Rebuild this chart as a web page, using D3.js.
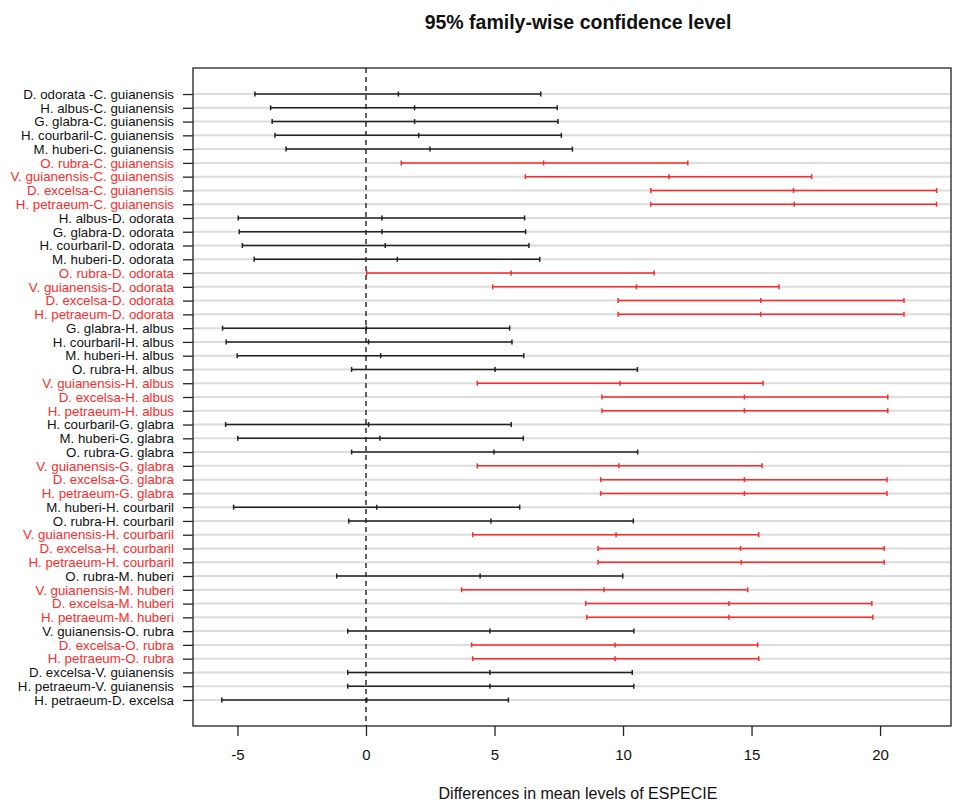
<!DOCTYPE html>
<html>
<head>
<meta charset="utf-8">
<script src="https://cdn.jsdelivr.net/npm/d3@7"></script>
<style>
  body { margin: 0; background: #fff; }
  text { font-family: "Liberation Sans", Arial, sans-serif; }
</style>
</head>
<body>
<div id="chart"></div>
<script>
// Tukey HSD comparisons, top to bottom
const comparisons = [
    'D. odorata -C. guianensis', 'H. albus-C. guianensis', 'G. glabra-C. guianensis',
    'H. courbaril-C. guianensis', 'M. huberi-C. guianensis', 'O. rubra-C. guianensis',
    'V. guianensis-C. guianensis', 'D. excelsa-C. guianensis', 'H. petraeum-C. guianensis',
    'H. albus-D. odorata', 'G. glabra-D. odorata', 'H. courbaril-D. odorata',
    'M. huberi-D. odorata', 'O. rubra-D. odorata', 'V. guianensis-D. odorata',
    'D. excelsa-D. odorata', 'H. petraeum-D. odorata', 'G. glabra-H. albus',
    'H. courbaril-H. albus', 'M. huberi-H. albus', 'O. rubra-H. albus',
    'V. guianensis-H. albus', 'D. excelsa-H. albus', 'H. petraeum-H. albus',
    'H. courbaril-G. glabra', 'M. huberi-G. glabra', 'O. rubra-G. glabra',
    'V. guianensis-G. glabra', 'D. excelsa-G. glabra', 'H. petraeum-G. glabra',
    'M. huberi-H. courbaril', 'O. rubra-H. courbaril', 'V. guianensis-H. courbaril',
    'D. excelsa-H. courbaril', 'H. petraeum-H. courbaril', 'O. rubra-M. huberi',
    'V. guianensis-M. huberi', 'D. excelsa-M. huberi', 'H. petraeum-M. huberi',
    'V. guianensis-O. rubra', 'D. excelsa-O. rubra', 'H. petraeum-O. rubra',
    'D. excelsa-V. guianensis', 'H. petraeum-V. guianensis', 'H. petraeum-D. excelsa'
]
const diff = [
    1.26, 1.89, 1.89, 2.05, 2.49, 6.91, 11.79, 16.63, 16.66,
    0.62, 0.62, 0.75, 1.22, 5.65, 10.52, 15.36, 15.36,
    0.01, 0.10, 0.57, 5.02, 9.88, 14.72, 14.72,
    0.10, 0.54, 4.98, 9.84, 14.72, 14.72,
    0.42, 4.86, 9.73, 14.57, 14.60,
    4.44, 9.26, 14.12, 14.12,
    4.82, 9.69, 9.69,
    4.82, 4.82,
    0.03
]
const lwr = [
    -4.32, -3.71, -3.65, -3.54, -3.11, 1.37, 6.20, 11.08, 11.08,
    -4.97, -4.93, -4.81, -4.35, 0.03, 4.93, 9.81, 9.81,
    -5.58, -5.44, -5.01, -0.56, 4.33, 9.18, 9.18,
    -5.46, -4.99, -0.56, 4.33, 9.13, 9.13,
    -5.15, -0.67, 4.15, 9.03, 9.03,
    -1.14, 3.72, 8.55, 8.59,
    -0.71, 4.11, 4.15,
    -0.71, -0.71,
    -5.61
]
const upr = [
    6.80, 7.44, 7.47, 7.60, 8.03, 12.52, 17.34, 22.20, 22.20,
    6.17, 6.21, 6.34, 6.76, 11.21, 16.07, 20.93, 20.93,
    5.59, 5.68, 6.14, 10.56, 15.45, 20.30, 20.30,
    5.65, 6.12, 10.57, 15.41, 20.27, 20.27,
    5.98, 10.40, 15.28, 20.16, 20.16,
    9.99, 14.85, 19.68, 19.72,
    10.42, 15.24, 15.28,
    10.36, 10.42,
    5.54
]
const xTicks = [-5, 0, 5, 10, 15, 20]

const width = 957, height = 802
const margin = {top: 68, right: 6, bottom: 76, left: 193}
const red = '#ff2a2a', black = '#222'

const svg = d3.select('#chart')
    .append('svg')
        .attr('width', width)
        .attr('height', height)

const n = comparisons.length
const rows = comparisons.map((name, i) => ({
    name, diff: diff[i], lwr: lwr[i], upr: upr[i], y: n - i,
    sig: lwr[i] > 0 || upr[i] < 0
}))

const xScale = d3.scaleLinear()
    .domain([-6.73, 22.76])
    .range([margin.left, width - margin.right])
const yScale = d3.scaleLinear()
    .domain([n + 1.89, 1 - 1.89])
    .range([margin.top, height - margin.bottom])

// grey guide lines
svg.append('g')
    .selectAll('line')
    .data(rows)
    .join('line')
        .attr('x1', xScale.range()[0])
        .attr('x2', xScale.range()[1])
        .attr('y1', d => yScale(d.y))
        .attr('y2', d => yScale(d.y))
        .style('stroke', '#dcdcdc')
        .style('stroke-width', 2)

// zero line
svg.append('line')
    .attr('x1', xScale(0)).attr('x2', xScale(0))
    .attr('y1', yScale.range()[0]).attr('y2', yScale.range()[1])
    .style('stroke', '#111')
    .style('stroke-width', 1.3)
    .style('stroke-dasharray', '5,4')

// intervals
const bars = svg.append('g').selectAll('g')
    .data(rows)
    .join('g')
        .style('stroke', d => d.sig ? red : black)
        .style('stroke-width', 1.5)

bars.append('line')
    .attr('x1', d => xScale(d.lwr))
    .attr('x2', d => xScale(d.upr))
    .attr('y1', d => yScale(d.y))
    .attr('y2', d => yScale(d.y))

for (const key of ['lwr', 'diff', 'upr']) {
    bars.append('line')
        .attr('x1', d => xScale(d[key]))
        .attr('x2', d => xScale(d[key]))
        .attr('y1', d => yScale(d.y) - 2.5)
        .attr('y2', d => yScale(d.y) + 2.5)
}

// box
svg.append('rect')
    .attr('x', xScale.range()[0])
    .attr('y', yScale.range()[0])
    .attr('width', xScale.range()[1] - xScale.range()[0])
    .attr('height', yScale.range()[1] - yScale.range()[0])
    .style('fill', 'none')
    .style('stroke', '#222')
    .style('stroke-width', 1.3)

// axes
const yAxis = d3.axisLeft(yScale)
    .tickValues(rows.map(d => d.y))
    .tickFormat(v => comparisons[n - v])
    .tickSize(10)
    .tickPadding(9)
const yG = svg.append('g')
    .attr('transform', 'translate(' + margin.left + ',0)')
    .call(yAxis)
yG.select('.domain').remove()
yG.selectAll('.tick line').style('stroke', '#222').style('stroke-width', 1.3)
yG.selectAll('.tick text')
    .style('font-size', '13.3px')
    .style('font-family', '"Liberation Sans", Arial, sans-serif')
    .style('fill', v => rows[n - v].sig ? red : '#111')

const xAxis = d3.axisBottom(xScale)
    .tickValues(xTicks)
    .tickFormat(d3.format('d'))
    .tickSize(10)
    .tickPadding(13)
const xG = svg.append('g')
    .attr('transform', 'translate(0,' + yScale.range()[1] + ')')
    .call(xAxis)
xG.select('.domain').remove()
xG.selectAll('.tick line').style('stroke', '#222').style('stroke-width', 1.3)
xG.selectAll('.tick text')
    .style('font-size', '15px')
    .style('font-family', '"Liberation Sans", Arial, sans-serif')
    .style('fill', '#111')
    .text(d => d < 0 ? '-' + Math.abs(d) : d)

// titles
svg.append('text')
    .attr('x', 578)
    .attr('y', 29)
    .attr('text-anchor', 'middle')
    .style('font-size', '19.5px')
    .style('font-weight', 'bold')
    .style('fill', '#111')
    .text('95% family-wise confidence level')

svg.append('text')
    .attr('x', 578)
    .attr('y', 799)
    .attr('text-anchor', 'middle')
    .style('font-size', '16px')
    .style('fill', '#111')
    .text('Differences in mean levels of ESPECIE')
</script>
</body>
</html>
